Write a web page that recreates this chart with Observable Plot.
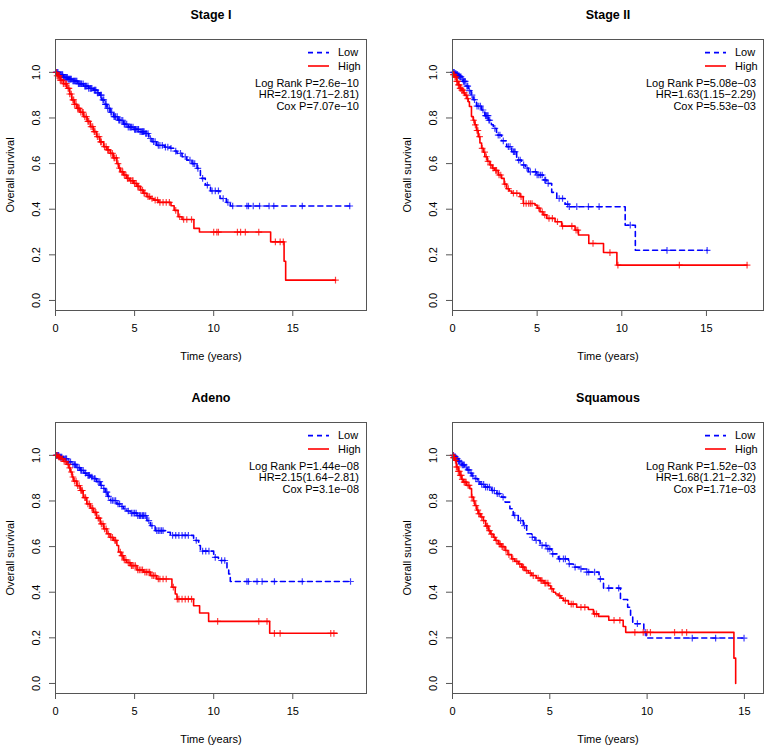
<!DOCTYPE html>
<html><head><meta charset="utf-8">
<script src="https://cdn.jsdelivr.net/npm/d3@7"></script>
<script src="https://cdn.jsdelivr.net/npm/@observablehq/plot@0.6"></script>
<style>
body{margin:0;background:#fff;}
#wrap{position:relative;width:776px;height:754px;font-family:"Liberation Sans",Arial,Helvetica,sans-serif;}
#wrap > div{position:absolute;}
</style></head><body><div id="wrap"></div>
<script>
const titles = ["Stage I", "Stage II", "Adeno", "Squamous"];
const groupLabels = ["Low", "High"];
const groupColors = ["#0000FF", "#FF0000"];
const xTicks = [0, 5, 10, 15];
const yTicks = [0, 0.2, 0.4, 0.6, 0.8, 1.0];
const xMax = [19.66, 18.37, 19.66, 15.98];
const statLines = [
  ["Log Rank P=2.6e\u221210", "HR=2.19(1.71\u22122.81)", "Cox P=7.07e\u221210"],
  ["Log Rank P=5.08e\u221203", "HR=1.63(1.15\u22122.29)", "Cox P=5.53e\u221203"],
  ["Log Rank P=1.44e\u221208", "HR=2.15(1.64\u22122.81)", "Cox P=3.1e\u221208"],
  ["Log Rank P=1.52e\u221203", "HR=1.68(1.21\u22122.32)", "Cox P=1.71e\u221203"]
];

// Panel 1: Stage I
const p1LowT = [0,0.2,0.5,0.8,1.03,1.4,1.77,2.1,2.4,2.6,2.8,2.93,3.1,3.25,3.45,3.67,3.95,4.3,4.6,4.94,5.3,5.67,5.9,6.1,6.4,6.9,7.26,7.5,7.68,8.0,8.3,8.63,8.95,9.16,9.47,9.8,10.4,10.8,11.05,18.6];
const p1LowS = [1,0.99,0.978,0.97,0.962,0.95,0.94,0.93,0.922,0.91,0.90,0.879,0.86,0.842,0.825,0.806,0.79,0.773,0.76,0.75,0.74,0.732,0.71,0.696,0.68,0.672,0.667,0.655,0.645,0.63,0.615,0.60,0.579,0.535,0.506,0.48,0.447,0.43,0.414,0.414];
const p1LowC = [0.05,0.1,0.15,0.2,0.25,0.3,0.35,0.4,0.45,0.5,0.55,0.6,0.65,0.7,0.75,0.8,0.85,0.9,0.95,1.0,1.1,1.15,1.2,1.25,1.3,1.35,1.45,1.5,1.55,1.6,1.65,1.75,1.85,1.9,1.95,2.05,2.1,2.2,2.25,2.3,2.45,2.5,2.55,2.65,2.7,2.85,2.9,3.0,3.05,3.15,3.2,3.3,3.4,3.5,3.55,3.7,3.75,3.8,3.9,4.0,4.05,4.15,4.25,4.35,4.4,4.5,4.6,4.7,4.75,4.8,4.9,5.0,5.05,5.1,5.2,5.25,5.35,5.45,5.5,5.55,5.6,5.7,5.75,5.85,6.0,6.2,6.3,6.5,6.6,6.75,6.95,7.1,7.3,7.6,7.9,8.2,8.5,8.7,8.8,9.0,9.3,9.6,9.9,10.1,10.3,10.6,10.9,11.2,12.1,12.2,12.5,12.9,13.5,13.8,15.6,18.6];
const p1HighT = [0,0.1,0.3,0.5,0.72,0.9,1.03,1.2,1.35,1.55,1.77,2.0,2.2,2.4,2.6,2.8,3.04,3.25,3.46,3.65,3.88,4.0,4.1,4.3,4.5,4.7,4.94,5.15,5.36,5.55,5.78,6.0,6.2,6.52,7.3,7.5,7.75,8.0,8.75,9.1,13.6,14.45,14.55,17.7];
const p1HighS = [1,0.985,0.966,0.95,0.93,0.905,0.879,0.86,0.842,0.825,0.806,0.785,0.762,0.74,0.718,0.695,0.674,0.66,0.645,0.625,0.60,0.58,0.564,0.55,0.535,0.525,0.513,0.50,0.484,0.47,0.455,0.447,0.44,0.43,0.415,0.395,0.367,0.355,0.316,0.30,0.257,0.172,0.089,0.089];
const p1HighC = [0.05,0.1,0.15,0.2,0.25,0.3,0.35,0.4,0.5,0.6,0.65,0.7,0.8,0.85,0.9,1.0,1.1,1.15,1.2,1.3,1.4,1.45,1.5,1.6,1.7,1.75,1.85,1.95,2.05,2.1,2.25,2.35,2.45,2.5,2.65,2.75,2.85,2.9,3.1,3.2,3.3,3.35,3.5,3.6,3.7,3.75,3.85,3.95,4.05,4.2,4.25,4.35,4.45,4.55,4.6,4.75,4.85,4.9,5.0,5.1,5.2,5.25,5.4,5.5,5.6,5.65,5.85,5.95,6.1,6.3,6.45,6.6,6.8,7.0,7.2,7.6,7.85,8.1,8.3,8.6,10.0,10.2,10.3,11.5,11.7,12.0,12.85,13.9,14.2,14.4,17.7];

// Panel 2: Stage II
const p2LowT = [0,0.15,0.24,0.35,0.43,0.55,0.63,0.8,0.93,1.1,1.22,1.42,1.72,1.91,2.11,2.3,2.41,2.6,2.9,3.2,3.5,3.79,4.08,4.3,4.48,4.97,5.37,5.57,5.86,6.16,6.65,6.85,10.2,10.8,15.04];
const p2LowS = [1,0.995,0.99,0.985,0.98,0.97,0.96,0.94,0.92,0.90,0.88,0.852,0.835,0.81,0.79,0.77,0.754,0.725,0.70,0.674,0.652,0.615,0.594,0.58,0.564,0.55,0.528,0.513,0.474,0.447,0.422,0.411,0.33,0.22,0.22];
const p2LowC = [0.05,0.1,0.15,0.2,0.25,0.3,0.35,0.4,0.45,0.5,0.6,0.65,0.7,0.75,0.85,0.9,1.0,1.15,1.3,1.45,1.55,1.65,1.8,1.95,2.0,2.05,2.1,2.15,2.2,2.5,2.7,2.8,3.0,3.3,3.4,3.6,3.65,3.7,3.9,4.0,4.2,4.4,4.6,4.9,5.0,5.1,5.2,5.3,5.45,5.5,5.65,6.3,6.5,6.8,6.9,7.34,8.03,8.66,10.5,12.67,15.04];
const p2HighT = [0,0.05,0.14,0.25,0.34,0.45,0.53,0.65,0.73,0.85,0.93,1.0,1.12,1.22,1.32,1.42,1.52,1.62,1.72,1.82,1.91,2.05,2.21,2.35,2.5,2.7,2.9,3.05,3.2,3.35,3.5,3.99,4.18,4.87,5.0,5.17,5.35,5.57,6.06,6.45,7.24,7.44,8.05,8.92,9.71,17.4];
const p2HighS = [1,0.99,0.98,0.96,0.945,0.93,0.922,0.91,0.90,0.885,0.871,0.85,0.806,0.79,0.77,0.745,0.718,0.69,0.667,0.65,0.63,0.61,0.594,0.58,0.57,0.55,0.535,0.51,0.49,0.48,0.47,0.455,0.425,0.418,0.405,0.389,0.375,0.36,0.345,0.326,0.308,0.287,0.25,0.21,0.155,0.155];
const p2HighC = [0.05,0.1,0.15,0.2,0.25,0.3,0.35,0.4,0.45,0.5,0.55,0.6,0.7,0.8,0.9,1.25,1.35,1.45,1.5,1.6,1.75,1.9,2.0,2.1,2.25,2.4,2.55,2.6,2.75,2.85,3.1,3.3,3.6,3.8,4.05,4.2,4.35,4.5,4.6,4.7,5.1,5.3,5.45,5.7,5.9,6.2,6.5,7.05,7.3,7.4,8.3,9.3,9.77,13.4,17.4];

// Panel 3: Adeno
const p3LowT = [0,0.25,0.5,0.75,1.03,1.3,1.56,1.8,1.98,2.2,2.4,2.6,2.83,3.0,3.14,3.3,3.46,3.88,4.1,4.3,4.5,4.73,5.15,5.78,6.0,6.3,7.05,7.26,8.73,9.05,9.16,10.0,10.3,10.84,10.95,11.05,18.65];
const p3LowS = [1,0.992,0.985,0.972,0.96,0.946,0.934,0.922,0.912,0.905,0.898,0.885,0.868,0.855,0.839,0.82,0.802,0.787,0.776,0.766,0.756,0.747,0.736,0.714,0.692,0.67,0.663,0.649,0.627,0.605,0.58,0.553,0.539,0.502,0.48,0.447,0.447];
const p3LowC = [0.05,0.1,0.15,0.2,0.3,0.35,0.4,0.5,0.6,0.65,0.7,0.8,0.85,0.95,1.1,1.2,1.25,1.4,1.5,1.6,1.65,1.75,1.9,2.05,2.1,2.15,2.3,2.45,2.5,2.7,2.8,2.9,3.05,3.2,3.25,3.35,3.5,3.6,3.7,3.8,3.95,4.05,4.2,4.4,4.6,4.8,4.9,5.0,5.1,5.2,5.3,5.35,5.4,5.5,5.55,5.6,5.7,5.9,6.1,6.4,6.5,6.6,6.7,6.8,7.4,7.6,7.8,8.0,8.2,8.4,8.9,9.3,9.5,9.7,10.1,10.5,10.7,12.1,12.2,12.74,13.06,13.84,15.6,18.65];
const p3HighT = [0,0.15,0.3,0.5,0.72,0.85,0.93,1.05,1.14,1.35,1.56,1.75,1.98,2.2,2.4,2.6,2.83,3.05,3.25,3.45,3.67,3.88,3.99,4.15,4.3,4.5,4.73,5.15,5.57,6.0,6.4,7.36,7.57,7.68,8.73,9.11,9.68,13.54,17.8];
const p3HighS = [1,0.993,0.985,0.973,0.96,0.945,0.927,0.905,0.887,0.867,0.846,0.815,0.787,0.768,0.75,0.725,0.70,0.678,0.656,0.64,0.627,0.605,0.576,0.56,0.542,0.53,0.517,0.498,0.488,0.473,0.458,0.422,0.392,0.37,0.341,0.309,0.272,0.22,0.22];
const p3HighC = [0.05,0.1,0.2,0.25,0.35,0.45,0.55,0.65,0.8,0.9,1.0,1.1,1.2,1.3,1.4,1.5,1.6,1.65,1.7,1.85,1.9,2.05,2.15,2.3,2.35,2.5,2.55,2.7,2.75,2.9,3.0,3.1,3.2,3.35,3.5,3.6,3.75,3.8,4.1,4.2,4.25,4.35,4.45,4.6,4.7,4.8,4.85,4.95,5.05,5.2,5.3,5.4,5.5,5.65,5.75,5.85,5.95,6.1,6.2,6.3,6.5,6.6,6.8,7.0,7.45,7.7,7.8,8.0,8.2,8.4,8.6,10.25,12.85,13.37,13.84,14.2,17.4,17.6];

// Panel 4: Squamous
const p4LowT = [0,0.1,0.2,0.3,0.38,0.5,0.63,0.75,0.89,1.0,1.15,1.3,1.41,1.66,2.0,2.27,2.52,2.7,2.95,3.12,3.38,3.64,3.81,4.07,4.24,4.5,4.84,5.1,5.44,5.96,6.21,6.56,6.9,7.53,7.76,8.63,9.0,9.15,9.26,9.83,9.95,15.05];
const p4LowS = [1,0.993,0.985,0.975,0.966,0.958,0.949,0.936,0.922,0.91,0.898,0.885,0.873,0.861,0.846,0.832,0.817,0.795,0.766,0.737,0.714,0.692,0.656,0.641,0.627,0.605,0.59,0.568,0.546,0.524,0.51,0.502,0.488,0.458,0.418,0.368,0.334,0.297,0.262,0.224,0.199,0.199];
const p4LowC = [0.05,0.1,0.15,0.2,0.25,0.3,0.35,0.45,0.5,0.55,0.6,0.7,0.8,0.85,0.95,1.05,1.2,1.35,1.5,1.6,1.7,1.8,1.9,2.05,2.15,2.3,2.4,2.6,3.2,3.5,3.7,4.1,4.3,4.6,4.8,4.9,5.0,5.15,5.5,5.7,5.8,6.0,6.3,6.6,6.9,7.0,7.3,7.6,8.03,8.54,9.5,9.9,12.32,13.52,14.98];
const p4HighT = [0,0.05,0.12,0.2,0.3,0.38,0.47,0.55,0.72,0.89,0.98,1.07,1.15,1.25,1.32,1.45,1.58,1.7,1.84,1.95,2.09,2.2,2.35,2.5,2.7,2.85,3.04,3.2,3.38,3.55,3.72,3.9,4.07,4.3,4.5,4.7,4.93,5.05,5.18,5.3,5.44,5.57,5.7,5.96,6.38,6.98,7.24,7.5,8.03,8.77,8.9,14.46,14.55];
const p4HighS = [1,0.99,0.978,0.949,0.93,0.912,0.895,0.883,0.868,0.854,0.817,0.80,0.78,0.76,0.744,0.73,0.714,0.69,0.67,0.655,0.641,0.627,0.612,0.60,0.583,0.565,0.546,0.535,0.524,0.51,0.495,0.484,0.473,0.462,0.451,0.44,0.429,0.415,0.40,0.392,0.385,0.374,0.363,0.348,0.334,0.324,0.305,0.294,0.277,0.25,0.224,0.111,0];
const p4HighC = [0.03,0.05,0.08,0.1,0.15,0.2,0.25,0.3,0.35,0.4,0.45,0.5,0.6,0.65,0.7,0.8,0.85,1.0,1.1,1.2,1.3,1.35,1.4,1.5,1.6,1.75,1.8,1.9,2.0,2.15,2.25,2.4,2.45,2.55,2.6,2.75,2.9,3.1,3.3,3.45,3.6,3.65,3.8,4.0,4.15,4.4,4.55,4.6,4.75,4.8,4.9,5.1,5.5,5.8,6.1,6.2,6.6,6.8,7.3,7.4,8.3,8.6,9.37,9.8,10.0,10.17,11.41,11.8,12.03];

const panels = [
  {low: [p1LowT, p1LowS, p1LowC], high: [p1HighT, p1HighS, p1HighC]},
  {low: [p2LowT, p2LowS, p2LowC], high: [p2HighT, p2HighS, p2HighC]},
  {low: [p3LowT, p3LowS, p3LowC], high: [p3HighT, p3HighS, p3HighC]},
  {low: [p4LowT, p4LowS, p4LowC], high: [p4HighT, p4HighS, p4HighC]}
];

const FONT = '"Liberation Sans", Arial, Helvetica, sans-serif';

function survAt(T, S, t) {
  let v = S[0];
  for (let k = 0; k < T.length; k++) if (T[k] <= t) v = S[k];
  return v;
}

function curveMarks([T, S, C], color, dashed) {
  const steps = T.map((t, k) => ({t, s: S[k]}));
  const cens = C.map(t => ({t, s: survAt(T, S, t)}));
  return [
    Plot.line(steps, {x: "t", y: "s", curve: "step-after", stroke: color, strokeWidth: 1.6,
      strokeDasharray: dashed ? "5,4" : null}),
    Plot.dot(cens, {x: "t", y: "s", symbol: "plus", r: 2.3, stroke: color, strokeWidth: 1.2, strokeOpacity: 0.75})
  ];
}

function legendMark(stats) {
  return (index, scales, values, dims) => {
    const g = d3.create("svg:g").attr("font-family", FONT).attr("font-size", 11).attr("fill", "black");
    const R = dims.width - dims.marginRight, T = dims.marginTop;
    groupLabels.forEach((lab, k) => {
      const y = T + 13.6 + k * 13.4;
      g.append("line").attr("x1", R - 58).attr("x2", R - 37).attr("y1", y).attr("y2", y)
        .attr("stroke", groupColors[k]).attr("stroke-width", 1.6)
        .attr("stroke-dasharray", k === 0 ? "5,4" : null);
      g.append("text").attr("x", R - 28).attr("y", y).attr("dy", "0.35em")
        .attr("text-anchor", "start").text(lab);
    });
    stats.forEach((s, k) => {
      g.append("text").attr("x", R - 7).attr("y", T + 44 + k * 11.35).attr("dy", "0.35em")
        .attr("text-anchor", "end").text(s);
    });
    return g.node();
  };
}

const wrap = document.getElementById("wrap");
panels.forEach((p, i) => {
  const col = i % 2, row = Math.floor(i / 2);
  const mL = col === 0 ? 55 : 64, mR = col === 0 ? 22 : 13;
  const mT = row === 0 ? 39 : 45, mB = row === 0 ? 67 : 61;
  const chart = Plot.plot({
    width: 388, height: 377,
    marginLeft: mL, marginRight: mR, marginTop: mT, marginBottom: mB,
    style: {fontFamily: FONT, fontSize: "11px", background: "white", color: "black", overflow: "visible"},
    x: {domain: [0, xMax[i]]},
    y: {domain: [-0.044, 1.144]},
    marks: [
      Plot.axisX({ticks: xTicks, tickSize: 6, tickPadding: 8, label: null, stroke: "#555", fontSize: 11}),
      Plot.axisY({ticks: yTicks, tickSize: 6, tickFormat: () => "", label: null, stroke: "#555"}),
      Plot.text(yTicks, {y: d => d, text: d => d.toFixed(1), frameAnchor: "left", dx: -19, rotate: -90,
        textAnchor: "middle", lineAnchor: "middle", fontSize: 11, fill: "black"}),
      Plot.text([titles[i]], {text: d => d, frameAnchor: "top", dy: -25, lineAnchor: "middle",
        fontWeight: "bold", fontSize: 12.5, fill: "black"}),
      Plot.text(["Time (years)"], {text: d => d, frameAnchor: "bottom", dy: 46, lineAnchor: "middle",
        fontSize: 11, fill: "black"}),
      Plot.text(["Overall survival"], {text: d => d, frameAnchor: "left", dx: -45, rotate: -90,
        textAnchor: "middle", lineAnchor: "middle", fontSize: 11, fill: "black"}),
      ...curveMarks(p.low, groupColors[0], true),
      ...curveMarks(p.high, groupColors[1], false),
      Plot.frame({stroke: "#555", strokeWidth: 1}),
      legendMark(statLines[i])
    ]
  });
  const d = document.createElement("div");
  d.style.left = (col * 388) + "px";
  d.style.top = (row * 377) + "px";
  d.appendChild(chart);
  wrap.appendChild(d);
});
</script></body></html>
